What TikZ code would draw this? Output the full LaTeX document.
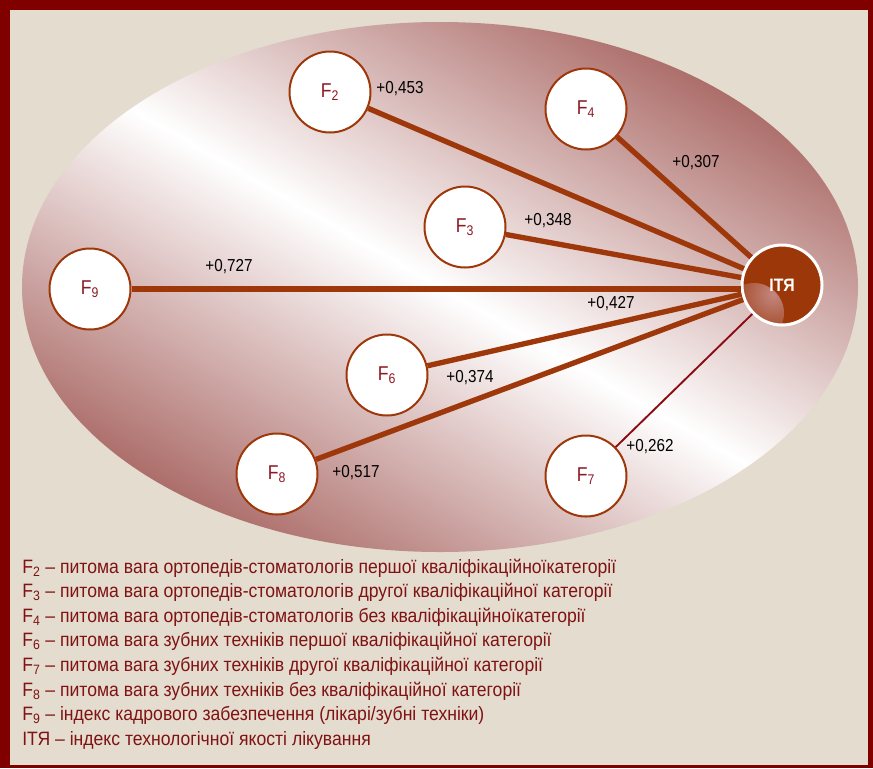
\documentclass[tikz,border=0pt]{standalone}
\usepackage{fontspec}
\setmainfont{Liberation Sans}
\newfontfamily\legfont[FakeStretch=0.91]{Liberation Sans}
\newfontfamily\numfont[FakeStretch=0.88]{Liberation Sans}
\usetikzlibrary{calc}
\definecolor{framec}{RGB}{128,0,0}
\definecolor{bgc}{RGB}{227,220,207}
\definecolor{ellD}{RGB}{160,88,84}
\definecolor{connc}{RGB}{158,56,10}
\definecolor{thinc}{RGB}{139,10,20}
\definecolor{ftxt}{RGB}{140,25,35}
\definecolor{itac}{RGB}{155,55,8}
\definecolor{itaspot}{RGB}{195,135,128}
\definecolor{legc}{RGB}{128,18,18}
\pgfdeclareverticalshading{ellsh}{100bp}{color(0bp)=(ellD); color(22bp)=(ellD); color(50bp)=(white); color(78bp)=(ellD); color(100bp)=(ellD)}
\begin{document}
\begin{tikzpicture}[x=0.75pt,y=-0.75pt,
  fnode/.style={circle, draw=connc, line width=1.5pt, fill=white, minimum size=60.75pt, inner sep=0pt, text=ftxt, font=\fontsize{15}{17}\numfont},
  link/.style={draw=connc, line width=4pt},
  thinlink/.style={draw=thinc, line width=1.4pt},
  coef/.style={font=\fontsize{13}{15}\numfont, text=black, inner sep=0pt},
  legline/.style={anchor=west, inner sep=0pt, font=\fontsize{14.5}{16}\legfont, text=legc}]
\fill[framec] (0,0) rectangle (873,768);
\fill[bgc] (10,10) rectangle (868,765);
\useasboundingbox (0,0) rectangle (873,768);
\shade[shading=ellsh, shading angle=-30] (440,287) ellipse [x radius=418, y radius=265];

\node[fnode] (F2) at (330,92) {F\textsubscript{2}};
\node[fnode] (F4) at (586,109) {F\textsubscript{4}};
\node[fnode] (F3) at (465,227) {F\textsubscript{3}};
\node[fnode] (F9) at (90,289) {F\textsubscript{9}};
\node[fnode] (F6) at (387,375) {F\textsubscript{6}};
\node[fnode] (F8) at (277,474) {F\textsubscript{8}};
\node[fnode] (F7) at (586,476) {F\textsubscript{7}};
\node[circle, fill=itac, draw=white, line width=2.25pt, minimum size=60pt, inner sep=0pt,
  text=white, font=\fontsize{13.5}{15}\numfont\bfseries,
  path picture={\shade[inner color=itaspot, outer color=itac] ($(path picture bounding box.south west)+(12,-12)$) circle (30);}]
  (ITA) at (782,285) {ІТЯ};

\draw[link] (F2) -- (ITA);
\draw[link] (F4) -- (ITA);
\draw[link] (F3) -- (ITA);
\draw[link] (F9) -- (F9 -| ITA.west);
\draw[link] (F6) -- (ITA);
\draw[link] (F8) -- (ITA);
\draw[thinlink] (F7) -- (ITA);

\node[coef] (c2) at (400,89) {+0,453};
\node[coef] (c4) at (696,163) {+0,307};
\node[coef] (c3) at (548,221) {+0,348};
\node[coef] (c9) at (229,267) {+0,727};
\node[coef] (c9b) at (611,304) {+0,427};
\node[coef] (c6) at (470,378) {+0,374};
\node[coef] (c8) at (356,473) {+0,517};
\node[coef] (c7) at (650,447) {+0,262};

\node[legline] (l1) at (22,568) {F\textsubscript{2} – питома вага ортопедів-стоматологів першої кваліфікаційноїкатегорії};
\node[legline] (l2) at (22,592.6) {F\textsubscript{3} – питома вага ортопедів-стоматологів другої кваліфікаційної категорії};
\node[legline] (l3) at (22,617.2) {F\textsubscript{4} – питома вага ортопедів-стоматологів без кваліфікаційноїкатегорії};
\node[legline] (l4) at (22,641.8) {F\textsubscript{6} – питома вага зубних техніків першої кваліфікаційної категорії};
\node[legline] (l5) at (22,666.4) {F\textsubscript{7} – питома вага зубних техніків другої кваліфікаційної категорії};
\node[legline] (l6) at (22,691) {F\textsubscript{8} – питома вага зубних техніків без кваліфікаційної категорії};
\node[legline] (l7) at (22,715.6) {F\textsubscript{9} – індекс кадрового забезпечення (лікарі/зубні техніки)};
\node[legline] (l8) at (22,740.2) {ІТЯ – індекс технологічної якості лікування};
\end{tikzpicture}
\end{document}
